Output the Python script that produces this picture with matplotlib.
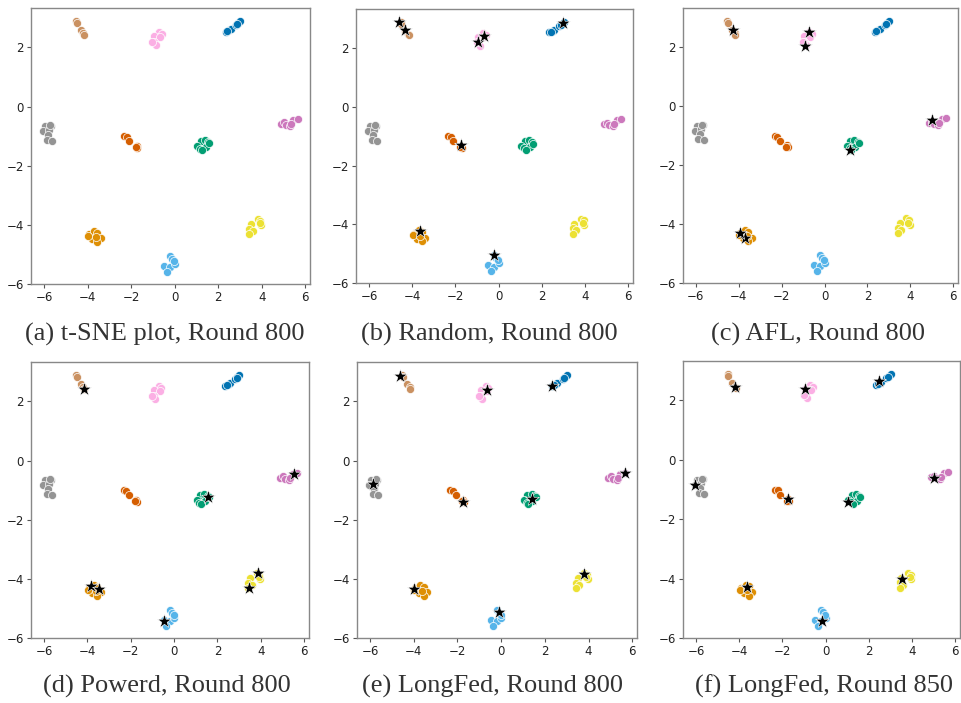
import matplotlib
matplotlib.use('Agg')
import matplotlib.pyplot as plt
import numpy as np

# seaborn "colorblind" palette, one colour per class
colors = ['#0173b2', '#de8f05', '#029e73', '#d55e00', '#cc78bc',
          '#ca9161', '#fbafe4', '#949494', '#ece133', '#56b4e9']

# t-SNE embedding, one list per class
class_x = [
    [2.35, 2.51, 2.58, 2.81, 2.92, 3.01, 2.42, 2.88],          # blue
    [-3.93, -3.70, -3.55, -3.39, -3.78, -3.55, -3.98, -3.62],  # orange
    [1.20, 1.39, 1.54, 1.05, 1.17, 1.43, 1.25, 1.59],          # green
    [-2.32, -2.20, -2.09, -1.74, -1.71, -1.79],                # vermillion
    [4.88, 5.03, 5.11, 5.31, 5.46, 5.65, 5.34],                # purple
    [-4.54, -4.50, -4.31, -4.19, -4.16],                       # brown
    [-0.71, -0.59, -0.94, -0.67, -0.94, -0.87, -1.02],         # pink
    [-5.95, -5.69, -6.03, -5.77, -5.82, -5.88, -5.62, -5.72],  # gray
    [3.81, 3.93, 3.50, 3.43, 3.58, 3.43, 3.96, 3.90],          # yellow
    [-0.21, -0.10, -0.48, -0.21, -0.36, 0.01, -0.02],          # light blue
]
class_y = [
    [2.53, 2.58, 2.61, 2.75, 2.83, 2.90, 2.55, 2.80],
    [-4.32, -4.21, -4.26, -4.46, -4.49, -4.57, -4.37, -4.40],
    [-1.18, -1.14, -1.21, -1.34, -1.42, -1.37, -1.48, -1.25],
    [-1.01, -1.03, -1.18, -1.32, -1.40, -1.37],
    [-0.58, -0.54, -0.62, -0.65, -0.45, -0.41, -0.58],
    [2.90, 2.81, 2.58, 2.47, 2.43],
    [2.51, 2.45, 2.39, 2.36, 2.19, 2.08, 2.19],
    [-0.67, -0.65, -0.84, -0.78, -0.95, -1.12, -1.15, -0.63],
    [-3.81, -3.87, -3.98, -4.13, -4.21, -4.32, -4.02, -3.95],
    [-5.05, -5.14, -5.38, -5.44, -5.59, -5.33, -5.22],
]

# selected clients (black stars) per panel
stars_x = [
    [],
    [-4.61, -4.33, -0.96, -0.67, 2.98, -1.73, -3.63, -0.23],
    [-4.27, -0.72, -0.90, 5.00, 1.18, -3.73, -3.96],
    [-4.15, 5.54, 1.57, -3.85, -3.46, -0.46, 3.89, 3.46],
    [-4.62, -0.67, 2.32, -5.85, -1.74, 1.40, 5.65, -3.98, 3.78, -0.10],
    [-4.20, -0.97, 2.49, -6.06, -1.72, 1.05, 5.03, -3.65, 3.54, -0.18],
]
stars_y = [
    [],
    [2.90, 2.60, 2.19, 2.42, 2.85, -1.31, -4.24, -5.04],
    [2.59, 2.53, 2.05, -0.47, -1.49, -4.46, -4.30],
    [2.42, -0.45, -1.25, -4.24, -4.33, -5.42, -3.79, -4.31],
    [2.87, 2.39, 2.52, -0.79, -1.41, -1.29, -0.43, -4.33, -3.82, -5.11],
    [2.46, 2.38, 2.65, -0.83, -1.31, -1.42, -0.61, -4.28, -4.01, -5.44],
]

captions = ['(a) t-SNE plot, Round 800', '(b) Random, Round 800',
            '(c) AFL, Round 800', '(d) Powerd, Round 800',
            '(e) LongFed, Round 800', '(f) LongFed, Round 850']

W, H = 961, 703
# axes boxes in pixels: left, top, right, bottom
boxes = [(31, 8, 310, 284), (356, 9, 633, 283), (683, 8, 958, 283),
         (31, 362, 309, 638), (357, 362, 637, 638), (683, 361, 960, 638)]
cap_pos = [(165, 334), (489, 334), (818, 334),
           (167, 686), (493, 686), (824, 686)]

fig = plt.figure(figsize=(W / 100, H / 100), dpi=100)

for i in range(6):
    l, t, r, b = boxes[i]
    ax = fig.add_axes([l / W, 1 - b / H, (r - l) / W, (b - t) / H])
    for k in range(10):
        ax.scatter(class_x[k], class_y[k], s=34, c=colors[k],
                   edgecolors='white', linewidths=0.5, zorder=2)
    if stars_x[i]:
        ax.scatter(stars_x[i], stars_y[i], s=110, marker='*', c='black',
                   edgecolors='white', linewidths=0.4, zorder=3)
    ax.set_xlim(-6.6, 6.22)
    ax.set_ylim(-6.0, 3.33)
    ax.set_xticks([-6, -4, -2, 0, 2, 4, 6])
    ax.set_yticks([-6, -4, -2, 0, 2])
    ax.tick_params(labelsize=8.5, length=3, width=0.8, color='#555555',
                   labelcolor='#222222', pad=2)
    for sp in ax.spines.values():
        sp.set_color('#888888')
        sp.set_linewidth(1.0)
    cx, cy = cap_pos[i]
    fig.text(cx / W, 1 - cy / H, captions[i], ha='center', va='center',
             family='Liberation Serif', fontsize=19, color='#333333')

fig.savefig('out.png', dpi=100)
